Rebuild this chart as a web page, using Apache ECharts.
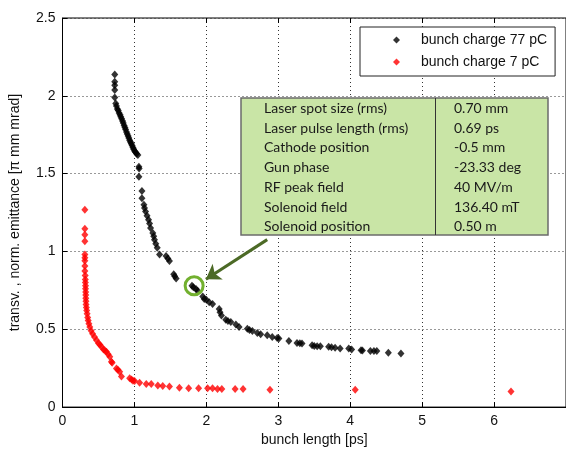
<!DOCTYPE html>
<html>
<head>
  <meta charset="UTF-8">
  <style>
    body { margin: 0; background: #fff; }
  </style>
  <script src="https://cdn.jsdelivr.net/npm/echarts@6/dist/echarts.min.js"></script>
</head>
<body>
  <div id="chart" style="width: 566px; height: 452px;"></div>
  <script>
    // bunch charge 77 pC
    const blackLength = [0.726,0.726,0.726,0.726,0.726,0.74,0.75,0.763,0.775,0.787,0.8,0.81,0.822,0.835,0.845,0.857,0.868,0.878,0.89,0.9,0.912,0.922,0.934,0.945,0.956,0.968,0.979,0.99,1.003,1.015,1.03,1.048,1.062,1.065,1.062,1.104,1.104,1.132,1.14,1.155,1.175,1.196,1.21,1.224,1.256,1.268,1.279,1.297,1.317,1.349,1.44,1.465,1.487,1.546,1.56,1.58,1.80,1.82,1.856,1.878,1.95,1.971,2.0,2.04,2.086,2.178,2.19,2.21,2.27,2.3,2.34,2.41,2.455,2.57,2.6,2.64,2.708,2.755,2.846,2.916,2.985,3.008,3.147,3.26,3.3,3.33,3.47,3.5,3.54,3.585,3.70,3.74,3.79,3.86,3.98,4.02,4.15,4.17,4.28,4.33,4.37,4.53,4.705];
    const blackEmit = [2.137,2.09,2.068,2.038,1.99,1.95,1.935,1.915,1.905,1.89,1.878,1.866,1.852,1.838,1.826,1.81,1.796,1.783,1.768,1.755,1.742,1.729,1.715,1.703,1.692,1.68,1.668,1.656,1.645,1.637,1.628,1.62,1.544,1.533,1.48,1.389,1.342,1.30,1.28,1.257,1.23,1.204,1.18,1.151,1.119,1.097,1.076,1.05,1.024,0.981,0.971,0.955,0.939,0.854,0.84,0.826,0.78,0.77,0.758,0.748,0.71,0.694,0.69,0.673,0.662,0.631,0.61,0.588,0.561,0.553,0.546,0.531,0.514,0.503,0.496,0.489,0.476,0.468,0.461,0.45,0.444,0.44,0.425,0.412,0.41,0.408,0.397,0.393,0.391,0.391,0.387,0.385,0.382,0.376,0.376,0.37,0.366,0.364,0.361,0.361,0.361,0.35,0.344];

    // bunch charge 7 pC
    const redLength = [0.311,0.311,0.311,0.311,0.311,0.311,0.311,0.311,0.311,0.315,0.317,0.318,0.32,0.32,0.322,0.323,0.324,0.326,0.328,0.332,0.336,0.342,0.35,0.357,0.367,0.38,0.398,0.418,0.445,0.473,0.5,0.52,0.542,0.57,0.59,0.611,0.635,0.657,0.68,0.69,0.75,0.77,0.795,0.819,0.934,0.96,0.98,1.003,1.072,1.164,1.234,1.325,1.394,1.487,1.625,1.754,1.892,2.017,2.086,2.155,2.215,2.40,2.51,2.884,4.07,6.235];
    const redEmit = [1.268,1.146,1.108,1.066,0.98,0.96,0.94,0.907,0.875,0.845,0.82,0.80,0.78,0.76,0.74,0.72,0.70,0.68,0.66,0.64,0.62,0.6,0.575,0.557,0.535,0.514,0.49,0.471,0.45,0.429,0.41,0.40,0.387,0.37,0.363,0.355,0.34,0.323,0.291,0.285,0.248,0.24,0.227,0.196,0.185,0.177,0.17,0.168,0.157,0.149,0.149,0.138,0.136,0.132,0.125,0.121,0.121,0.121,0.121,0.117,0.117,0.117,0.117,0.111,0.111,0.10];

    const seriesNames = ['bunch charge 77 pC', 'bunch charge 7 pC'];

    // marked working point and arrow from the table
    const markedPoint = [1.83, 0.78];
    const arrowFrom = [2.846, 1.076];
    const arrowTo = [1.994, 0.822];

    const paramNames = ['Laser spot size (rms)', 'Laser pulse length (rms)', 'Cathode position', 'Gun phase', 'RF peak field', 'Solenoid field', 'Solenoid position'];
    const paramValues = ['0.70 mm', '0.69 ps', '-0.5 mm', '-23.33 deg', '40 MV/m', '136.40 mT', '0.50 m'];

    function pairs (xs, ys) {
      return xs.map((x, i) => [x, ys[i]])
    }

    const font = 'Liberation Sans, Arial, sans-serif'
    const tableFont = 'Lato, sans-serif'

    // the parameter table pasted over the plot
    const tableItems = [{
      type: 'rect', z: 100,
      shape: { x: 241, y: 98, width: 307, height: 137 },
      style: { fill: '#c9e5a6', stroke: '#6b6b6b', lineWidth: 1.5 }
    }, {
      type: 'line', z: 101,
      shape: { x1: 435.5, y1: 98, x2: 435.5, y2: 235 },
      style: { stroke: '#333', lineWidth: 1 }
    }]
    paramNames.forEach((name, i) => {
      const y = 108.5 + i * 19.7
      tableItems.push({
        type: 'text', x: 264, y: y, z: 101,
        style: { text: name, font: '14px ' + tableFont, fill: '#1a1a1a', verticalAlign: 'middle' }
      })
      tableItems.push({
        type: 'text', x: 454, y: y, z: 101,
        style: { text: paramValues[i], font: '14px ' + tableFont, fill: '#1a1a1a', verticalAlign: 'middle' }
      })
    })

    const myChart = echarts.init(document.getElementById('chart'))

    const options = {
      animation: false,
      textStyle: { fontFamily: font },
      grid: {
        left: 62.5, top: 18, right: -2.6, bottom: 41.3,
        show: true, borderColor: '#000', borderWidth: 1
      },
      legend: {
        data: seriesNames,
        orient: 'vertical',
        left: 360, top: 27,
        padding: [6, 8, 7, 33],
        itemGap: 8,
        itemWidth: 7, itemHeight: 7,
        backgroundColor: '#fff',
        borderColor: '#222', borderWidth: 1,
        textStyle: { fontSize: 14, color: '#111', fontFamily: font, padding: [0, 0, 0, 16] }
      },
      xAxis: [{
        type: 'value',
        min: 0, max: 7, interval: 1,
        name: 'bunch length [ps]',
        nameLocation: 'middle',
        nameGap: 24,
        nameTextStyle: { fontSize: 14, color: '#111' },
        axisLine: { lineStyle: { color: '#000' } },
        axisTick: { inside: true, length: 5, lineStyle: { color: '#000' } },
        axisLabel: { fontSize: 14, color: '#111', margin: 7, showMaxLabel: false },
        splitLine: { lineStyle: { color: '#333', type: [1, 3] } }
      }, {
        type: 'value',
        position: 'top',
        min: 0, max: 7, interval: 1,
        axisLine: { show: false },
        axisTick: { inside: true, length: 5, lineStyle: { color: '#000' } },
        axisLabel: { show: false },
        splitLine: { show: false }
      }],
      yAxis: {
        type: 'value',
        min: 0, max: 2.5, interval: 0.5,
        name: 'transv. , norm. emittance [π mm mrad]',
        nameLocation: 'middle',
        nameRotate: 90,
        nameGap: 40,
        nameTextStyle: { fontSize: 14, color: '#111' },
        axisLine: { show: true, lineStyle: { color: '#000' } },
        axisTick: { show: true, inside: true, length: 5, lineStyle: { color: '#000' } },
        axisLabel: { fontSize: 14, color: '#111', margin: 7 },
        splitLine: { lineStyle: { color: '#333', type: [1, 3] } }
      },
      series: [{
        name: seriesNames[0],
        type: 'scatter',
        symbol: 'diamond',
        symbolSize: [7, 8],
        itemStyle: { color: '#000' },
        data: pairs(blackLength, blackEmit),
        markPoint: {
          silent: true,
          symbol: 'circle',
          symbolSize: 18,
          itemStyle: { color: 'rgba(0,0,0,0)', borderColor: '#72b02f', borderWidth: 3 },
          label: { show: false },
          data: [{ coord: markedPoint }]
        },
        markLine: {
          silent: true,
          symbol: ['none', 'arrow'],
          symbolSize: [14, 14],
          lineStyle: { color: '#4c6a26', width: 3, type: 'solid' },
          label: { show: false },
          data: [[{ coord: arrowFrom }, { coord: arrowTo }]]
        }
      }, {
        name: seriesNames[1],
        type: 'scatter',
        symbol: 'diamond',
        symbolSize: [7, 8],
        itemStyle: { color: '#ff0000' },
        data: pairs(redLength, redEmit)
      }],
      graphic: tableItems
    }

    myChart.setOption(options)
  </script>
</body>
</html>
